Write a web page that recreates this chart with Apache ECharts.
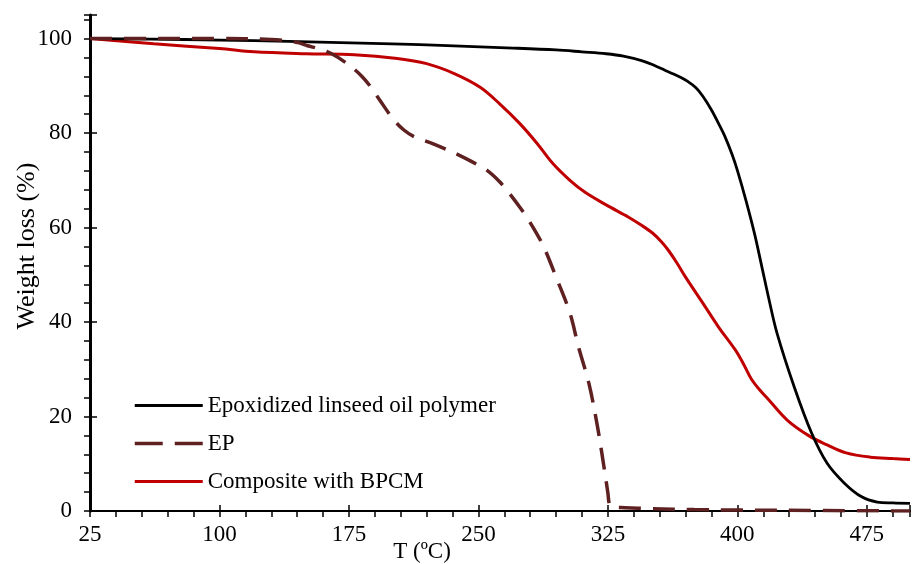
<!DOCTYPE html>
<html>
<head>
<meta charset="utf-8">
<script src="https://cdn.jsdelivr.net/npm/echarts@6/dist/echarts.min.js"></script>
<style>
  html, body { margin: 0; padding: 0; background: #fff; }
  #chart { width: 913px; height: 564px; }
</style>
</head>
<body>
<div id="chart"></div>
<script>
// TGA curves: temperature (ºC) and remaining weight (%)
const polymerT = [25, 60, 100, 140, 200, 232, 270, 295, 310, 324, 334, 345, 352, 358, 363, 367, 371, 376, 380, 385, 389, 393, 397, 400, 405, 410, 414, 418, 423, 433, 443, 452, 462, 472, 481, 490, 500];
const polymerW = [100, 99.9, 99.7, 99.4, 98.9, 98.5, 98.0, 97.6, 97.2, 96.8, 96.3, 95.3, 94.3, 93.3, 92.5, 91.8, 91.0, 89.6, 87.8, 84.9, 82.1, 79.1, 75.4, 72.1, 65.7, 58.6, 52.0, 45.3, 37.6, 26.2, 16.5, 10.1, 5.9, 3.0, 1.9, 1.7, 1.6];

const epT = [25, 60, 100, 130, 145, 151, 158, 165, 174, 182, 188, 193, 201, 207, 213, 222, 228, 239, 247, 255, 262, 268, 274, 278, 283, 288, 295, 303, 308, 314, 319, 323, 325, 326, 328, 335, 350, 375, 400, 450, 500];
const epW = [100, 100, 100, 99.8, 99.2, 98.5, 97.8, 96.8, 94.7, 92.2, 89.6, 86.9, 82.8, 80.6, 79.2, 78.0, 77.1, 75.3, 73.8, 72.1, 69.8, 67.2, 64.3, 62.2, 59.2, 55.8, 49.5, 41.9, 34.7, 27.0, 17.8, 8.7, 3.8, 1.3, 0.8, 0.7, 0.5, 0.3, 0.2, 0.1, 0.0];

const compositeT = [25, 62, 100, 120, 150, 178, 203, 220, 236, 251, 262, 274, 284, 293, 303, 312, 324, 337, 344, 351, 356, 360, 365, 370, 380, 389, 399, 404, 408, 413, 418, 429, 442, 452, 463, 477, 490, 500];
const compositeW = [100, 98.9, 97.9, 97.2, 96.8, 96.6, 95.8, 94.7, 92.6, 89.7, 86.3, 82.0, 77.8, 73.6, 70.0, 67.4, 64.8, 62.2, 60.6, 58.8, 57.0, 55.2, 52.5, 49.5, 44.0, 39.0, 34.0, 30.8, 28.0, 25.6, 23.6, 19.2, 15.8, 14.0, 12.3, 11.4, 11.1, 10.9];

const xLabelTicks = [25, 100, 175, 250, 325, 400, 475];
const yLabelTicks = [0, 20, 40, 60, 80, 100];

const seriesNames = ['Epoxidized linseed oil polymer', 'EP', 'Composite with BPCM'];

function pairs(xs, ys) { return xs.map((x, i) => [x, ys[i]]); }

const FONT = '"Liberation Serif", "Times New Roman", serif';

const chart = echarts.init(document.getElementById('chart'), null, { renderer: 'canvas' });

const baseX = { type: 'value', min: 25, max: 500, position: 'bottom', offset: 0, splitLine: { show: false } };
const baseY = { type: 'value', min: 0, max: 105, position: 'left', offset: 0, splitLine: { show: false } };

const lineCommon = { type: 'line', smooth: 0.35, showSymbol: false, symbol: 'none' };

chart.setOption({
  animation: false,
  backgroundColor: '#ffffff',
  grid: { left: 90, top: 15, width: 826, bottom: 53, containLabel: false },
  legend: {
    orient: 'vertical',
    left: 128,
    top: 389,
    itemWidth: 68,
    itemHeight: 24,
    itemGap: 15,
    data: [
      { name: seriesNames[0], lineStyle: { width: 3 } },
      { name: seriesNames[1], lineStyle: { width: 3.5, type: [28, 12] } },
      { name: seriesNames[2], lineStyle: { width: 3 } }
    ],
    itemStyle: { opacity: 0 },
    textStyle: { fontFamily: FONT, fontSize: 23, color: '#000' }
  },
  xAxis: [
    Object.assign({}, baseX, {
      interval: 15,
      axisLine: { show: true, lineStyle: { color: '#000', width: 2 } },
      axisTick: { show: true, inside: false, length: 6, lineStyle: { color: '#000', width: 1.5 } },
      axisLabel: {
        margin: 12,
        fontFamily: FONT, fontSize: 23, color: '#000',
        formatter: v => (xLabelTicks.indexOf(v) >= 0 ? String(v) : '')
      }
    }),
    Object.assign({}, baseX, {
      interval: 75,
      axisLine: { show: false },
      axisTick: { show: true, inside: true, length: 6, lineStyle: { color: '#000', width: 1.5 } },
      axisLabel: { show: false }
    })
  ],
  yAxis: [
    Object.assign({}, baseY, {
      interval: 4,
      axisLine: { show: true, lineStyle: { color: '#000', width: 3 } },
      axisTick: { show: true, inside: false, length: 6, lineStyle: { color: '#000', width: 1.5 } },
      axisLabel: {
        margin: 18,
        fontFamily: FONT, fontSize: 23, color: '#000',
        formatter: v => (yLabelTicks.indexOf(v) >= 0 ? String(v) : '')
      }
    }),
    Object.assign({}, baseY, {
      interval: 20,
      axisLine: { show: false },
      axisTick: { show: true, inside: true, length: 7, lineStyle: { color: '#000', width: 1.5 } },
      axisLabel: { show: false }
    })
  ],
  graphic: [
    {
      type: 'text',
      x: 27, y: 246, rotation: Math.PI / 2,
      style: { text: 'Weight loss (%)', font: '26px ' + FONT, fill: '#000', align: 'center', verticalAlign: 'middle' }
    },
    {
      type: 'text',
      x: 422, y: 552,
      style: { text: 'T (ºC)', font: '23px ' + FONT, fill: '#000', align: 'center', verticalAlign: 'middle' }
    }
  ],
  series: [
    Object.assign({}, lineCommon, {
      name: seriesNames[0], data: pairs(polymerT, polymerW), z: 3,
      lineStyle: { color: '#000000', width: 2.8 }, itemStyle: { color: '#000000' }
    }),
    Object.assign({}, lineCommon, {
      name: seriesNames[1], data: pairs(epT, epW), z: 4,
      lineStyle: { color: '#5e2020', width: 3.5, type: [22, 12] }, itemStyle: { color: '#5e2020' }
    }),
    Object.assign({}, lineCommon, {
      name: seriesNames[2], data: pairs(compositeT, compositeW), z: 2,
      lineStyle: { color: '#c00000', width: 3 }, itemStyle: { color: '#c00000' }
    })
  ]
});
</script>
</body>
</html>
